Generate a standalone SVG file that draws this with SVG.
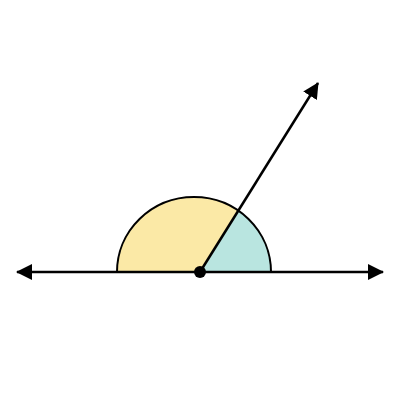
<svg xmlns="http://www.w3.org/2000/svg" width="400" height="400" viewBox="0 0 400 400">
<style>
.ln{stroke:#000;stroke-width:2.5;fill:none}
.arc{stroke:#000;stroke-width:2;fill:none}
</style>
<defs>
<marker id="ah" viewBox="0 0 16 16" refX="15" refY="8" markerWidth="16" markerHeight="16" markerUnits="userSpaceOnUse" orient="auto">
<path d="M0,0 L16,8 L0,16 Z" fill="#000"/>
</marker>
</defs>
<rect width="400" height="400" fill="#fff"/>
<g id="angles">
<path d="M117,272 A77 75 0 0 1 238.3,210.7 L200,272 Z" fill="#fbe9a6"/>
<path d="M238.3,210.7 A77 75 0 0 1 271,272 L200,272 Z" fill="#b9e5e0"/>
<path class="arc" d="M117,272 A77 75 0 0 1 271,272"/>
</g>
<g id="connectors">
<line class="ln" x1="200" y1="272" x2="17" y2="272" marker-end="url(#ah)"/>
<line class="ln" x1="200" y1="272" x2="383" y2="272" marker-end="url(#ah)"/>
<line class="ln" x1="200" y1="272" x2="318" y2="83" marker-end="url(#ah)"/>
</g>
<g id="vertex">
<circle cx="200" cy="272" r="6" fill="#000"/>
</g>
</svg>
